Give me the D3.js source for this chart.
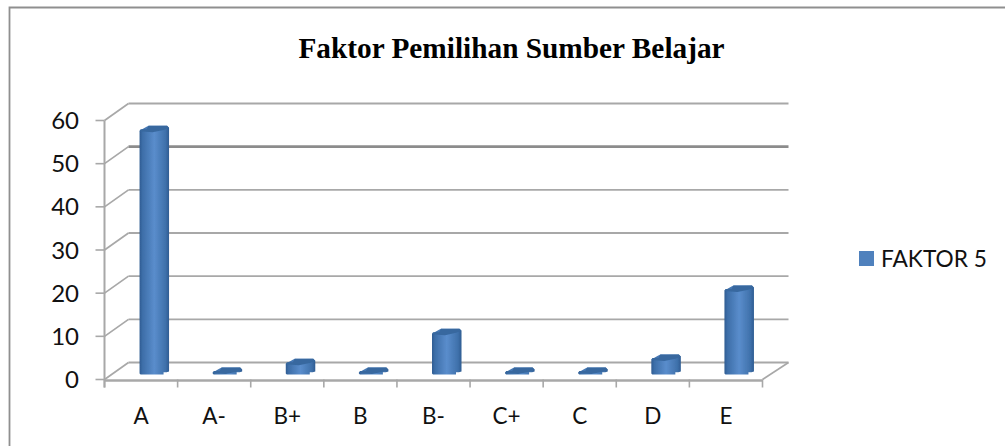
<!DOCTYPE html>
<html><head><meta charset="utf-8">
<script src="https://cdn.jsdelivr.net/npm/d3@7"></script>
<style>html,body{margin:0;padding:0;background:#fff}svg{display:block}</style>
</head><body><div id="c"></div>
<script>
const categories = ["A","A-","B+","B","B-","C+","C","D","E"];
const values = [56,0,2,0,9,0,0,3,19];
const yTicks = [0,10,20,30,40,50,60];
const seriesName = "FAKTOR 5";
const titleText = "Faktor Pemilihan Sumber Belajar";

const W=1005,H=446;
const svg=d3.select("#c").append("svg").attr("width",W).attr("height",H);
const defs=svg.append("defs");
const g=defs.append("linearGradient").attr("id","cyl");
[[0,"#2f5c92"],[0.1,"#3d6ea8"],[0.5,"#5a8dcc"],[0.88,"#3f71ab"],[1,"#2f5c92"]].forEach(s=>g.append("stop").attr("offset",s[0]).attr("stop-color",s[1]));
defs.append("filter").attr("id","soft").append("feGaussianBlur").attr("stdDeviation",0.6);
defs.append("filter").attr("id","soft2").append("feGaussianBlur").attr("stdDeviation",0.35);

// frame
svg.append("path").attr("d","M9.5,446V7.5H1005").attr("fill","none").attr("stroke","#8f8f8f").attr("stroke-width",1.8);

const x=d3.scaleBand().domain(categories).range([104.5,762.5]);
const y=d3.scaleLinear().domain([0,60]).range([379.5,120.5]);
const dx=24,dy=-17;
const gridC="#a8a8a8";

const grid=svg.append("g").attr("filter","url(#soft2)");
yTicks.forEach(t=>{
  grid.append("line").attr("x1",x.range()[0]).attr("y1",y(t)).attr("x2",x.range()[0]+dx).attr("y2",y(t)+dy)
    .attr("stroke",gridC).attr("stroke-width",1.7);
  grid.append("line").attr("x1",x.range()[0]+dx).attr("y1",y(t)+dy).attr("x2",x.range()[1]+dx+2).attr("y2",y(t)+dy)
    .attr("stroke",t===50?"#8c8c8c":gridC).attr("stroke-width",t===50?2.6:1.9);
});
grid.append("line").attr("x1",x.range()[1]).attr("y1",y(0)).attr("x2",x.range()[1]+dx+2).attr("y2",y(0)+dy)
  .attr("stroke",gridC).attr("stroke-width",1.6);

// axes
const axisG=svg.append("g").attr("filter","url(#soft2)");
axisG.append("line").attr("x1",x.range()[0]).attr("x2",x.range()[0]).attr("y1",y(60)).attr("y2",y(0)+8).attr("stroke",gridC).attr("stroke-width",2);
axisG.append("line").attr("x1",x.range()[0]).attr("x2",x.range()[1]).attr("y1",y(0)+1).attr("y2",y(0)+1).attr("stroke",gridC).attr("stroke-width",2.4);
yTicks.forEach(t=>axisG.append("line").attr("x1",x.range()[0]-9).attr("x2",x.range()[0]).attr("y1",y(t)).attr("y2",y(t)).attr("stroke",gridC).attr("stroke-width",1.6));
categories.forEach(c=>{const px=x(c);axisG.append("line").attr("x1",px).attr("x2",px).attr("y1",y(0)).attr("y2",y(0)+8).attr("stroke",gridC).attr("stroke-width",1.6);});
axisG.append("line").attr("x1",x.range()[1]).attr("x2",x.range()[1]).attr("y1",y(0)).attr("y2",y(0)+8).attr("stroke",gridC).attr("stroke-width",1.6);

// bars: one stepped outline per bar, so the shading runs across the whole column
const bars=svg.append("g").attr("filter","url(#soft)");
const baseY=y(0)-5;
categories.forEach((c,i)=>{
  const v=values[i];
  const x0=x(c)+x.bandwidth()/2-1.5;
  const top=y(v)-12;
  const b=bars.append("g");
  b.append("path").attr("d",`M${x0},${top+5}L${x0+7},${top+1}L${x0+9},${top}H${x0+27.5}L${x0+29.5},${top+2}V${baseY-3}L${x0+27},${baseY-2.2}H${x0+24}V${baseY}H${x0+1}L${x0},${baseY-1}Z`).attr("fill","url(#cyl)");
  b.append("path").attr("d",`M${x0},${top+5.5}L${x0+1},${top+3.5}H${x0+7}L${x0+9},${top}H${x0+27.5}L${x0+29.5},${top+2.2}L${x0+24},${top+4.2}L${x0+13},${top+6.5}Z`).attr("fill","#37689f");
});

// tick labels
const font="Lato, 'Open Sans', sans-serif";
svg.append("g").selectAll("text").data(yTicks).join("text")
  .attr("x",79).attr("y",d=>y(d)+8.5).attr("text-anchor","end").attr("font-family",font).attr("font-size",24).attr("fill","#111").text(d=>d);
svg.append("g").selectAll("text").data(categories).join("text")
  .attr("x",d=>x(d)+x.bandwidth()/2).attr("y",424).attr("text-anchor","middle").attr("font-family",font).attr("font-size",22.5).attr("fill","#111").text(d=>d);

// title
svg.append("text").attr("x",511.5).attr("y",58).attr("text-anchor","middle").attr("font-family","'Liberation Serif',serif").attr("font-weight","bold").attr("font-size",29.3).attr("fill","#000").text(titleText);

// legend
svg.append("rect").attr("x",859).attr("y",251).attr("width",15).attr("height",15).attr("fill","#4f81bd");
svg.append("text").attr("x",881).attr("y",266.5).attr("font-family",font).attr("font-size",22.7).attr("fill","#111").text(seriesName);
</script></body></html>
